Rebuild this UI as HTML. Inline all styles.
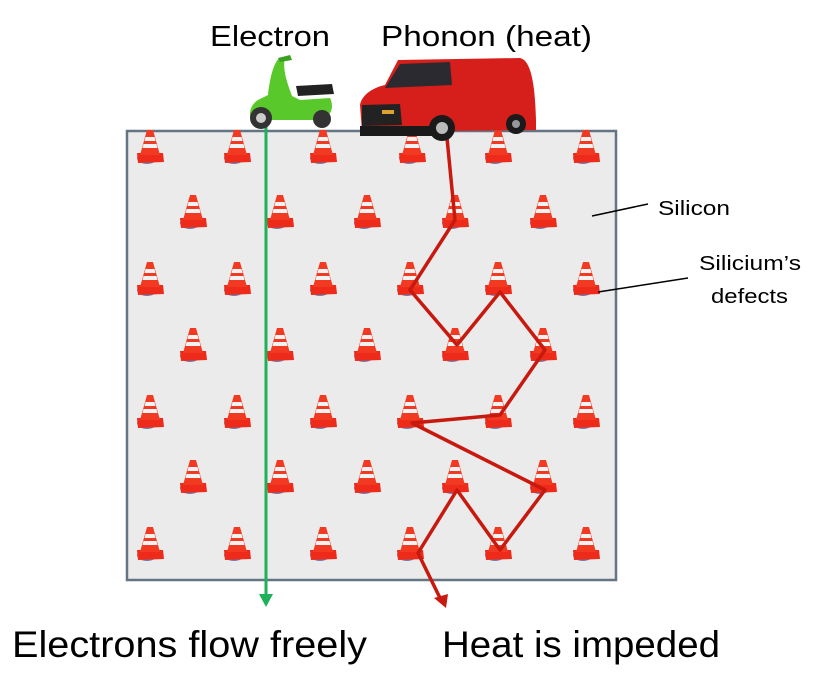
<!DOCTYPE html>
<html><head><meta charset="utf-8"><style>
html,body{margin:0;padding:0;background:#fff;width:832px;height:686px;overflow:hidden}
svg{display:block}
text{font-family:"Liberation Sans","DejaVu Sans",sans-serif;fill:#000}
</style></head><body>
<svg width="832" height="686" viewBox="0 0 832 686" xmlns="http://www.w3.org/2000/svg">
<defs>
<g id="cone">
<ellipse cx="-3" cy="-2" rx="10" ry="6" fill="#4a5fa0" opacity="0.8"/>
<path d="M-13,-7 L13,-7 L14,2 L-12,3 Z" fill="#ee2a1a"/>
<path d="M-3,-30 L3,-30 L10,-5 L-10,-5 Z" fill="#f23a22"/>
<path d="M-4.5,-23 L4.5,-23 L5.5,-19 L-5.5,-19 Z" fill="#f2f2f2"/>
<path d="M-6.5,-16 L6.5,-16 L7.5,-12 L-7.5,-12 Z" fill="#f2f2f2"/>
</g>
</defs>
<rect x="127" y="131" width="489" height="449" fill="#ebebeb" stroke="#647483" stroke-width="2.5"/>

<g>
<use href="#cone" x="150" y="160"/><use href="#cone" x="237" y="160"/><use href="#cone" x="323" y="160"/><use href="#cone" x="412" y="160"/><use href="#cone" x="498" y="160"/><use href="#cone" x="586" y="160"/>
<use href="#cone" x="193" y="225"/><use href="#cone" x="280" y="225"/><use href="#cone" x="367" y="225"/><use href="#cone" x="455" y="225"/><use href="#cone" x="543" y="225"/>
<use href="#cone" x="150" y="292"/><use href="#cone" x="237" y="292"/><use href="#cone" x="323" y="292"/><use href="#cone" x="410" y="292"/><use href="#cone" x="498" y="292"/><use href="#cone" x="586" y="292"/>
<use href="#cone" x="193" y="358"/><use href="#cone" x="280" y="358"/><use href="#cone" x="367" y="358"/><use href="#cone" x="455" y="358"/><use href="#cone" x="543" y="358"/>
<use href="#cone" x="150" y="425"/><use href="#cone" x="237" y="425"/><use href="#cone" x="323" y="425"/><use href="#cone" x="410" y="425"/><use href="#cone" x="498" y="425"/><use href="#cone" x="586" y="425"/>
<use href="#cone" x="193" y="490"/><use href="#cone" x="280" y="490"/><use href="#cone" x="367" y="490"/><use href="#cone" x="455" y="490"/><use href="#cone" x="543" y="490"/>
<use href="#cone" x="150" y="557"/><use href="#cone" x="237" y="557"/><use href="#cone" x="323" y="557"/><use href="#cone" x="410" y="557"/><use href="#cone" x="498" y="557"/><use href="#cone" x="586" y="557"/>
</g>

<line x1="266" y1="125" x2="266" y2="596" stroke="#1fb05a" stroke-width="3"/>
<path d="M259,594 L273,594 L266,607 Z" fill="#1fb05a"/>

<polyline points="447,138 455,220 410,290 457,345 500,292 545,350 500,415 412,423 545,490 500,550 457,490 418,553 441,600" fill="none" stroke="#c8190f" stroke-width="3.5" stroke-linejoin="round"/>
<path d="M434,598 L448,594 L446,608 Z" fill="#c8190f"/>

<g>
<path d="M280,58 C275,60 270,75 268,95 L258,100 C250,105 248,115 252,120 L320,120 C330,118 335,108 330,98 L300,100 L292,96 C288,85 282,70 285,58 Z" fill="#58c82a"/>
<path d="M296,86 L332,84 L334,94 L298,96 Z" fill="#222"/>
<circle cx="261" cy="118" r="11" fill="#333"/><circle cx="261" cy="118" r="5" fill="#ccc"/>
<circle cx="322" cy="119" r="9" fill="#333"/>
<path d="M278,58 L290,55 L292,60 L280,62 Z" fill="#3aa020"/>
</g>

<g>
<path d="M398,60 L520,58 C530,60 535,80 536,120 L536,130 L362,132 L360,105 C362,95 372,88 385,85 Z" fill="#d61e1a"/>
<path d="M400,64 L450,62 L452,85 L385,88 Z" fill="#2a2a30"/>
<path d="M362,105 L400,104 L402,125 L362,126 Z" fill="#222"/>
<rect x="360" y="126" width="90" height="10" fill="#1a1a1a"/>
<circle cx="442" cy="128" r="13" fill="#1a1a1a"/><circle cx="442" cy="128" r="6" fill="#bbb"/>
<circle cx="516" cy="124" r="10" fill="#1a1a1a"/><circle cx="516" cy="124" r="4" fill="#999"/>
<rect x="382" y="110" width="12" height="4" fill="#e0a030"/>
</g>

<text x="210" y="46" font-size="29" textLength="120" lengthAdjust="spacingAndGlyphs">Electron</text>
<text x="381" y="46" font-size="29" textLength="211" lengthAdjust="spacingAndGlyphs">Phonon (heat)</text>
<text x="658" y="215" font-size="20" textLength="72" lengthAdjust="spacingAndGlyphs">Silicon</text>
<line x1="592" y1="216" x2="648" y2="204" stroke="#000" stroke-width="1.5"/>
<text x="699" y="270" font-size="20" textLength="102" lengthAdjust="spacingAndGlyphs">Silicium’s</text>
<text x="711" y="303" font-size="20" textLength="77" lengthAdjust="spacingAndGlyphs">defects</text>
<line x1="598" y1="292" x2="688" y2="278" stroke="#000" stroke-width="1.5"/>
<text x="12" y="657" font-size="37" textLength="355" lengthAdjust="spacingAndGlyphs">Electrons flow freely</text>
<text x="442" y="657" font-size="37" textLength="278" lengthAdjust="spacingAndGlyphs">Heat is impeded</text>
</svg>
</body></html>
